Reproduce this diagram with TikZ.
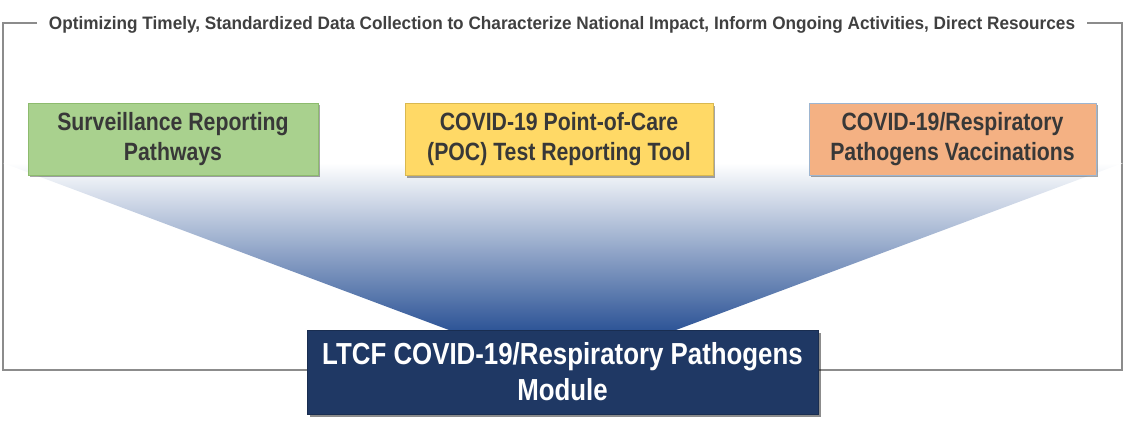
\documentclass[tikz,border=0pt]{standalone}
\usepackage{fontspec}
\setmainfont{Liberation Sans}
\newfontfamily\narrowfont[FakeStretch=0.85]{Liberation Sans}
\newfontfamily\titlefont[FakeStretch=0.955]{Liberation Sans}
\usetikzlibrary{shadows}
\definecolor{framegray}{HTML}{8C8C8C}
\definecolor{titlegray}{HTML}{404040}
\definecolor{boxtext}{HTML}{383838}
\definecolor{greenfill}{HTML}{A9D18E}
\definecolor{greenline}{HTML}{8DBB6E}
\definecolor{yellowfill}{HTML}{FFD966}
\definecolor{yellowline}{HTML}{D9B850}
\definecolor{orangefill}{HTML}{F4B183}
\definecolor{orangeline}{HTML}{9DB5D0}
\definecolor{navyfill}{HTML}{1F3864}
\definecolor{funnelmid}{HTML}{8EA2CB}
\definecolor{funnelbot}{HTML}{2E5597}
\tikzset{
  topbox/.style={draw, line width=0.8pt, minimum height=72pt, align=center,
    text=boxtext, font=\narrowfont\bfseries\fontsize{25}{30}\selectfont,
    drop shadow={shadow xshift=2pt, shadow yshift=-2pt, opacity=0.35, fill=black}},
  modbox/.style={fill=navyfill, draw=navyfill!80!black, line width=0.8pt, minimum width=511pt,
    minimum height=84pt, align=center, text=white,
    font=\narrowfont\bfseries\fontsize{30.4}{36}\selectfont,
    drop shadow={shadow xshift=2.5pt, shadow yshift=-2.5pt, opacity=0.45, fill=black}},
  titletext/.style={text=titlegray, font=\titlefont\bfseries\fontsize{18}{21}\selectfont, inner sep=0pt},
  frameline/.style={draw=framegray, line width=1.1pt}
}
\begin{document}
\begin{tikzpicture}[x=1pt,y=-1pt]
\useasboundingbox (0,0) rectangle (1125,432);
% frame
\coordinate (fa) at (37,23);
\coordinate (fb) at (3,23);
\coordinate (fc) at (3,370);
\coordinate (fd) at (1122,370);
\coordinate (fe) at (1122,23);
\coordinate (ff) at (1087,23);
\draw[frameline] (fa) -- (fb) -- (fc) -- (fd) -- (fe) -- (ff);
\node[titletext] (title) at (562,25) {Optimizing Timely, Standardized Data Collection to Characterize National Impact, Inform Ongoing Activities, Direct Resources};
% funnel
\coordinate (tl) at (3,163);
\coordinate (tr) at (1123,163);
\coordinate (br) at (676,330);
\coordinate (bl) at (449,330);
\shade[top color=white, middle color=funnelmid, bottom color=funnelbot] (tl) -- (tr) -- (br) -- (bl) -- cycle;
% boxes
\node[topbox, fill=greenfill, draw=greenline, minimum width=290pt] (surv) at (173,139) {Surveillance Reporting\\Pathways};
\node[topbox, fill=yellowfill, draw=yellowline, minimum width=308pt] (poc) at (559,139.5) {COVID-19 Point-of-Care\\(POC) Test Reporting Tool};
\node[topbox, fill=orangefill, draw=orangeline, minimum width=287pt] (vacc) at (952.5,139) {COVID-19/Respiratory\\Pathogens Vaccinations};
\node[modbox] (mod) at (562.5,372) {LTCF COVID-19/Respiratory Pathogens\\Module};
\end{tikzpicture}
\end{document}
